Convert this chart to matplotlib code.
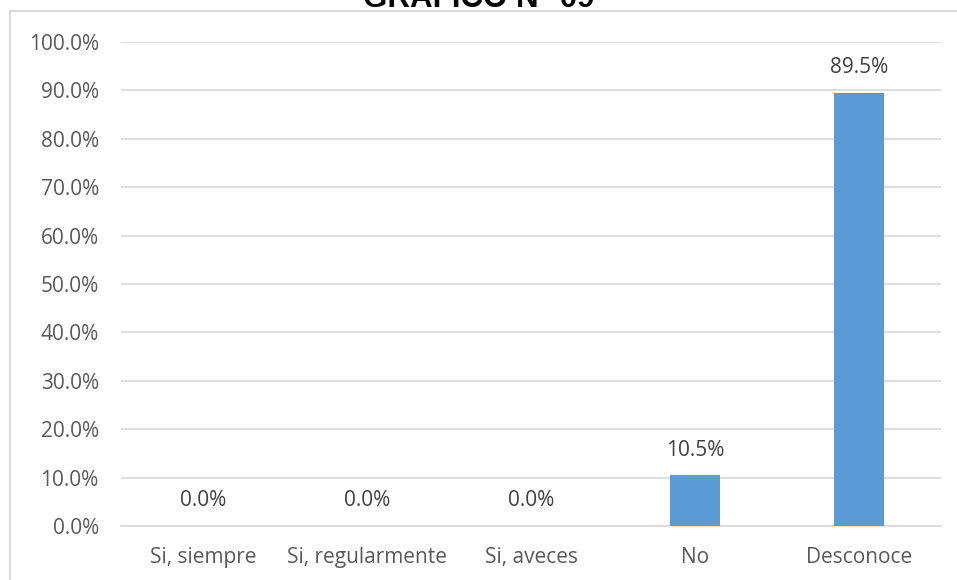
import numpy as np
import matplotlib.pyplot as plt
from matplotlib import patches

categorias = ["Si, siempre", "Si, regularmente", "Si, aveces", "No", "Desconoce"]
porcentajes = [0.0, 0.0, 0.0, 10.5, 89.5]
ticks_y = [0, 10, 20, 30, 40, 50, 60, 70, 80, 90, 100]
titulo = "GRAFICO N° 09"

plt.rcParams["font.family"] = ["Open Sans", "DejaVu Sans"]

fig = plt.figure(figsize=(9.57, 5.8), dpi=100)
ax = fig.add_axes([121 / 957, 1 - 526 / 580, 820 / 957, 484 / 580])

x = np.arange(len(categorias))
ax.bar(x, porcentajes, width=0.31, color="#5b9bd5", zorder=3)

for xi, v in zip(x, porcentajes):
    ax.text(xi, v + 3.0, f"{v:.1f}%", ha="center", va="bottom",
            fontsize=15, color="#404040")

ax.set_xlim(-0.5, len(categorias) - 0.5)
ax.set_ylim(0, 100)
ax.set_yticks(ticks_y)
ax.set_yticklabels([f"{t:.1f}%" for t in ticks_y])
ax.set_xticks(x)
ax.set_xticklabels(categorias)
ax.tick_params(axis="both", length=0, labelsize=15, colors="#595959")
ax.tick_params(axis="y", pad=16)
ax.tick_params(axis="x", pad=15)

ax.grid(axis="y", color="#d9d9d9", linewidth=1.2, zorder=0)
for s in ["top", "right", "left"]:
    ax.spines[s].set_visible(False)
ax.spines["bottom"].set_color("#d9d9d9")
ax.spines["bottom"].set_linewidth(1.2)

# marco del grafico
marco = patches.Rectangle((10 / 957, -0.1), 1.2, 1 - 11 / 580 + 0.1,
                          transform=fig.transFigure, fill=False,
                          edgecolor="#d9d9d9", linewidth=1.5)
fig.add_artist(marco)

# titulo, cortado en la parte superior (igual que en la imagen original)
fig.text(0.5, 1 - 7 / 580, titulo, ha="center", va="baseline",
         fontsize=22.5, fontweight="bold", family="Liberation Sans", color="black")

fig.savefig("out.png", dpi=100)
